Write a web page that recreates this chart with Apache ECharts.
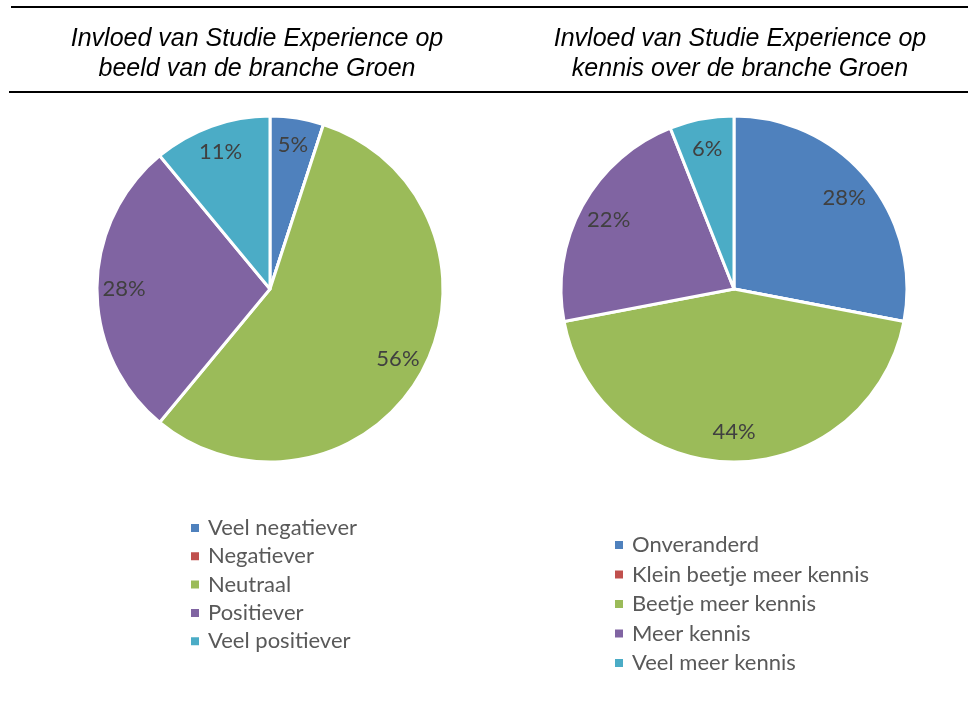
<!DOCTYPE html>
<html>
<head>
<meta charset="utf-8">
<script src="https://cdn.jsdelivr.net/npm/echarts@6/dist/echarts.min.js"></script>
<style>
html,body{margin:0;padding:0;background:#fff;}
#c{width:968px;height:727px;}
</style>
</head>
<body>
<div id="c"></div>
<script>
const leftTitle = 'Invloed van Studie Experience op\nbeeld van de branche Groen';
const rightTitle = 'Invloed van Studie Experience op\nkennis over de branche Groen';
const leftCats = ['Veel negatiever', 'Negatiever', 'Neutraal', 'Positiever', 'Veel positiever'];
const leftValues = [5, 0, 56, 28, 11];
const rightCats = ['Onveranderd', 'Klein beetje meer kennis', 'Beetje meer kennis', 'Meer kennis', 'Veel meer kennis'];
const rightValues = [28, 0, 44, 22, 6];
const colors = ['#4F81BD', '#C0504D', '#9BBB59', '#8064A2', '#4BACC6'];

const chart = echarts.init(document.getElementById('c'), null, {renderer: 'canvas'});
const toData = (cats, vals) => cats.map((n, i) => ({name: n, value: vals[i]}));
const labelFont = 'Lato, "Open Sans", sans-serif';

function mainPie(cats, vals, cx) {
  return {
    type: 'pie', center: [cx, 289], radius: [0, 173], startAngle: 90, clockwise: true,
    data: toData(cats, vals), color: colors,
    itemStyle: {borderColor: '#fff', borderWidth: 3},
    label: {show: false}, labelLine: {show: false},
    emphasis: {disabled: true}, animation: false, avoidLabelOverlap: false
  };
}
function labelPie(cats, vals, cx, r0) {
  return {
    type: 'pie', center: [cx, 289], radius: [r0, 173], startAngle: 90, clockwise: true,
    data: toData(cats, vals), silent: true,
    itemStyle: {color: 'rgba(0,0,0,0)', borderWidth: 0},
    label: {show: true, position: 'inside', color: '#404040', fontSize: 22, fontFamily: labelFont,
      formatter: p => p.value === 0 ? '' : p.value + '%'},
    labelLine: {show: false}, emphasis: {disabled: true}, animation: false, avoidLabelOverlap: false
  };
}

const legendCommon = {
  orient: 'vertical', icon: 'rect', itemWidth: 10, itemHeight: 10,
  textStyle: {color: '#595959', fontSize: 22, fontFamily: labelFont, lineHeight: 20, padding: [0, 0, 0, 3]},
  selectedMode: false
};
const titleStyle = {fontFamily: '"Liberation Sans", Arial, sans-serif', fontStyle: 'italic', fontWeight: 'normal', fontSize: 25, lineHeight: 30, color: '#000'};

chart.setOption({
  backgroundColor: '#fff',
  animation: false,
  title: [
    {text: leftTitle, left: 252, top: 19, textAlign: 'center', textStyle: titleStyle},
    {text: rightTitle, left: 735, top: 19, textAlign: 'center', textStyle: titleStyle}
  ],
  legend: [
    Object.assign({}, legendCommon, {data: leftCats, left: 184, top: 512, itemGap: 6.3}),
    Object.assign({}, legendCommon, {data: rightCats, left: 608, top: 529, itemGap: 7.5})
  ],
  graphic: [
    {type: 'line', shape: {x1: 11, y1: 7, x2: 968, y2: 7}, style: {stroke: '#000', lineWidth: 2}},
    {type: 'line', shape: {x1: 9, y1: 92, x2: 968, y2: 92}, style: {stroke: '#000', lineWidth: 2}}
  ],
  series: [
    mainPie(leftCats, leftValues, 270),
    mainPie(rightCats, rightValues, 734),
    labelPie(leftCats, leftValues, 270, 113),
    labelPie(rightCats, rightValues, 734, 107)
  ]
});
</script>
</body>
</html>
